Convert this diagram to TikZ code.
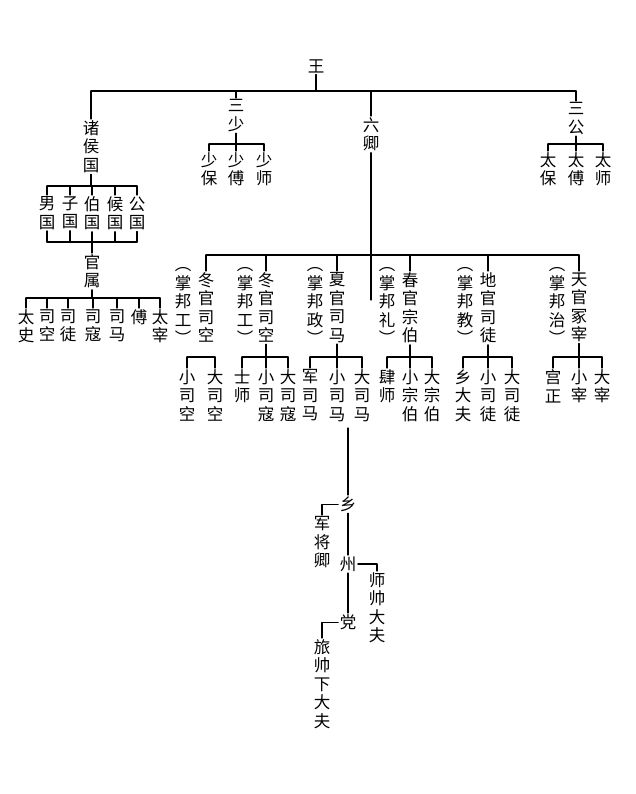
\documentclass[tikz,border=0pt]{standalone}
\usepackage{fontspec}
\newfontfamily\cjk{Noto Sans CJK SC}
\usepackage{tikz}

\begin{document}
\begin{tikzpicture}[x=1pt,y=-1pt,line width=1.1pt,line cap=round,line join=round,
  vt/.style={font=\cjk\fontsize{16.5}{18.5}\selectfont,align=center,inner sep=1pt,anchor=north}]
\useasboundingbox (0,0) rectangle (635,794);

% levels of the bars
\coordinate (b0) at (0,91);
\coordinate (b1) at (0,144);
\coordinate (b2) at (0,186);
\coordinate (b2b) at (0,242);
\coordinate (b3) at (0,298);
\coordinate (b4) at (0,255);
\coordinate (b5) at (0,357);

%%%%%%%%%%%%%%%% TOP %%%%%%%%%%%%%%%%%%%
\node[vt] (wang) at (316,58) {王};
\node[vt] (zhuhou) at (91,119) {诸\\侯\\国};
\node[vt] (sanshao) at (236,98) {三\\少};
\node[vt] (liuqing) at (371,116) {六\\卿};
\node[vt] (sangong) at (576,101) {三\\公};
\coordinate (lqend) at (371,300);

\draw (wang.south) -- (wang.south |- b0);
\draw (zhuhou.north |- b0) -- (sangong.north |- b0);
\foreach \n in {zhuhou,sanshao,liuqing,sangong}
    \draw (\n.north) -- (\n.north |- b0);
\draw (liuqing.south) -- (liuqing.south |- lqend);

%%%%%%%%%%%%%%%% SAN SHAO / SAN GONG %%%%%%%%%%%%%%%%%%%
\node[vt] (shaobao) at (209,151) {少\\保};
\node[vt] (shaofu) at (236,151) {少\\傅};
\node[vt] (shaoshi) at (264,151) {少\\师};
\node[vt] (taibao) at (548,151) {太\\保};
\node[vt] (taifu) at (576,151) {太\\傅};
\node[vt] (taishi) at (603,151) {太\\师};

\draw (sanshao.south) -- (sanshao.south |- b1);
\draw (sangong.south) -- (sangong.south |- b1);
\draw (shaobao.north |- b1) -- (shaoshi.north |- b1);
\draw (taibao.north |- b1) -- (taishi.north |- b1);
\foreach \n in {shaobao,shaofu,shaoshi,taibao,taifu,taishi}
    \draw (\n.north) -- (\n.north |- b1);

%%%%%%%%%%%%%%%% ZHU HOU GUO %%%%%%%%%%%%%%%%%%%
\node[vt] (nanguo) at (47,195) {男\\国};
\node[vt] (ziguo) at (70,195) {子\\国};
\node[vt] (boguo) at (92,195) {伯\\国};
\node[vt] (houguo) at (115,195) {候\\国};
\node[vt] (gongguo) at (137,195) {公\\国};
\node[vt] (guanshu) at (92,253) {官\\属};

\draw (zhuhou.south) -- (zhuhou.south |- b2);
\draw (nanguo.north |- b2) -- (gongguo.north |- b2);
\draw (nanguo.south |- b2b) -- (gongguo.south |- b2b);
\foreach \n in {nanguo,ziguo,boguo,houguo,gongguo} {
    \draw (\n.north) -- (\n.north |- b2);
    \draw (\n.south) -- (\n.south |- b2b);
}
\draw (guanshu.north) -- (guanshu.north |- b2b);

\node[vt] (taishi2) at (26,308) {太\\史};
\node[vt] (sikong) at (47,308) {司\\空};
\node[vt] (situ) at (68,308) {司\\徒};
\node[vt] (sikou) at (93,308) {司\\寇};
\node[vt] (sima) at (117,308) {司\\马};
\node[vt] (fu) at (139,308) {傅};
\node[vt] (taizai) at (160,308) {太\\宰};

\draw (guanshu.south) -- (guanshu.south |- b3);
\draw (taishi2.north |- b3) -- (taizai.north |- b3);
\foreach \n in {taishi2,sikong,situ,sikou,sima,fu,taizai}
    \draw (\n.north) -- (\n.north |- b3);

%%%%%%%%%%%%%%%% LIU QING %%%%%%%%%%%%%%%%%%%
\node[vt] (d1) at (206,271) {冬\\官\\司\\空};
\node[vt] (p1) at (183,266) {︵\\掌\\邦\\工\\︶};
\node[vt] (d2) at (266,271) {冬\\官\\司\\空};
\node[vt] (p2) at (245,266) {︵\\掌\\邦\\工\\︶};
\node[vt] (d3) at (337,271) {夏\\官\\司\\马};
\node[vt] (p3) at (315,266) {︵\\掌\\邦\\政\\︶};
\node[vt] (d4) at (410,271) {春\\官\\宗\\伯};
\node[vt] (p4) at (387,266) {︵\\掌\\邦\\礼\\︶};
\node[vt] (d5) at (488,271) {地\\官\\司\\徒};
\node[vt] (p5) at (465,266) {︵\\掌\\邦\\教\\︶};
\node[vt] (d6) at (579,271) {天\\官\\冢\\宰};
\node[vt] (p6) at (557,266) {︵\\掌\\邦\\治\\︶};

\draw (d1.north |- b4) -- (d6.north |- b4);
\foreach \n in {d1,d2,d3,d4,d5,d6}
    \draw (\n.north) -- (\n.north |- b4);
\foreach \n in {d2,d3,d4,d5,d6}
    \draw (\n.south) -- (\n.south |- b5);

\node[vt] (c11) at (187,368) {小\\司\\空};
\node[vt] (c12) at (215,368) {大\\司\\空};
\node[vt] (c21) at (242,368) {士\\师};
\node[vt] (c22) at (266,368) {小\\司\\寇};
\node[vt] (c23) at (288,368) {大\\司\\寇};
\node[vt] (c31) at (310,368) {军\\司\\马};
\node[vt] (c32) at (337,368) {小\\司\\马};
\node[vt] (c33) at (362,368) {大\\司\\马};
\node[vt] (c41) at (387,368) {肆\\师};
\node[vt] (c42) at (410,368) {小\\宗\\伯};
\node[vt] (c43) at (432,368) {大\\宗\\伯};
\node[vt] (c51) at (463,368) {乡\\大\\夫};
\node[vt] (c52) at (488,368) {小\\司\\徒};
\node[vt] (c53) at (512,368) {大\\司\\徒};
\node[vt] (c61) at (553,368) {宫\\正};
\node[vt] (c62) at (579,368) {小\\宰};
\node[vt] (c63) at (602,368) {大\\宰};

\draw (c11.north |- b5) -- (c12.north |- b5);
\draw (c21.north |- b5) -- (c23.north |- b5);
\draw (c31.north |- b5) -- (c33.north |- b5);
\draw (c41.north |- b5) -- (c43.north |- b5);
\draw (c51.north |- b5) -- (c53.north |- b5);
\draw (c61.north |- b5) -- (c63.north |- b5);
\foreach \n in {c11,c12,c21,c22,c23,c31,c32,c33,c41,c42,c43,c51,c52,c53,c61,c62,c63}
    \draw (\n.north) -- (\n.north |- b5);

%%%%%%%%%%%%%%%% XIANG / ZHOU / DANG %%%%%%%%%%%%%%%%%%%
\coordinate (s0) at (348,428);
\node[vt] (xiang) at (348,495) {乡};
\node[vt] (zhou) at (348,555) {州};
\node[vt] (dang) at (348,613) {党};
\node[vt] (jjq) at (322,515) {军\\将\\卿};
\node[vt] (ssdf) at (377,571) {师\\帅\\大\\夫};
\node[vt] (lsxdf) at (322,638) {旅\\帅\\下\\大\\夫};

\draw (s0) -- (xiang.north);
\draw (xiang.south) -- (zhou.north);
\draw (zhou.south) -- (dang.north);
\draw (xiang.west) -| (jjq.north);
\draw (zhou.east) -| (ssdf.north);
\draw (dang.west) -| (lsxdf.north);

\end{tikzpicture}
\end{document}
